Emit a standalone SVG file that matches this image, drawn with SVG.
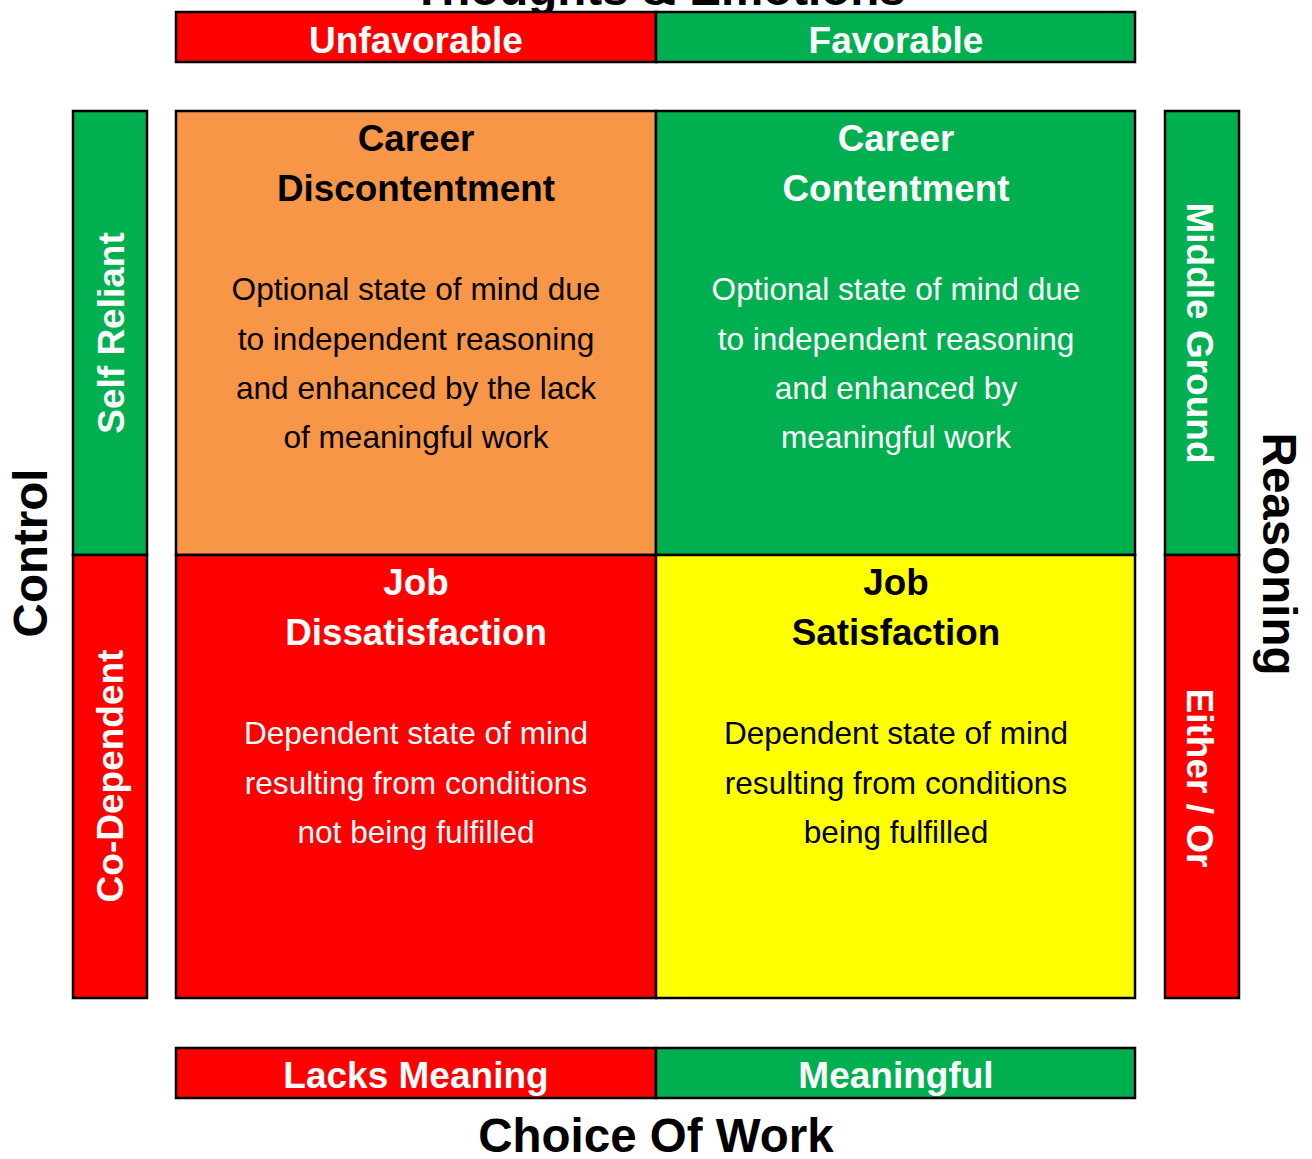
<svg xmlns="http://www.w3.org/2000/svg" width="1312" height="1159" viewBox="0 0 1312 1159">
<style>
.cell{stroke:#000;stroke-width:2.5}
.red{fill:#FF0000}.green{fill:#00B050}.orange{fill:#F79646}.yellow{fill:#FFFF00}
text{font-family:"Liberation Sans",Arial,sans-serif;text-anchor:middle}
.bar{font-size:37px;font-weight:bold;fill:#fff}
.axis{font-size:47.5px;font-weight:bold;fill:#000}
.title{font-size:36.8px;font-weight:bold}
.body{font-size:31.6px}
.w{fill:#fff}.k{fill:#000}
</style>
<rect width="1312" height="1159" fill="#fff"/>
<g id="axis-top">
<text class="axis" x="659" y="5">Thoughts &amp; Emotions</text>
</g>
<g id="top-bar">
<rect class="cell red" x="176" y="12" width="480" height="50"/>
<rect class="cell green" x="656" y="12" width="479" height="50"/>
<text class="bar" x="416" y="53">Unfavorable</text>
<text class="bar" x="896" y="53">Favorable</text>
</g>
<g id="left-bar">
<rect class="cell green" x="73" y="111" width="74" height="444"/>
<rect class="cell red" x="73" y="555" width="74" height="443"/>
<text class="bar" transform="translate(124,333) rotate(-90)">Self Reliant</text>
<text class="bar" transform="translate(123,776) rotate(-90)">Co-Dependent</text>
</g>
<g id="right-bar">
<rect class="cell green" x="1165" y="111" width="74" height="444"/>
<rect class="cell red" x="1165" y="555" width="74" height="443"/>
<text class="bar" transform="translate(1187,333) rotate(90)">Middle Ground</text>
<text class="bar" transform="translate(1187,778) rotate(90)">Either / Or</text>
</g>
<g id="axis-left">
<text class="axis" transform="translate(47,553) rotate(-90)">Control</text>
</g>
<g id="axis-right">
<text class="axis" transform="translate(1263,554) rotate(90)">Reasoning</text>
</g>
<g id="career-discontentment">
<rect class="cell orange" x="176" y="111" width="480" height="444"/>
<text class="title k" x="416" y="151">Career</text>
<text class="title k" x="416" y="201">Discontentment</text>
<text class="body k" x="416" y="300">Optional state of mind due</text>
<text class="body k" x="416" y="350">to independent reasoning</text>
<text class="body k" x="416" y="399">and enhanced by the lack</text>
<text class="body k" x="416" y="448">of meaningful work</text>
</g>
<g id="career-contentment">
<rect class="cell green" x="656" y="111" width="479" height="444"/>
<text class="title w" x="896" y="151">Career</text>
<text class="title w" x="896" y="201">Contentment</text>
<text class="body w" x="896" y="300">Optional state of mind due</text>
<text class="body w" x="896" y="350">to independent reasoning</text>
<text class="body w" x="896" y="399">and enhanced by</text>
<text class="body w" x="896" y="448">meaningful work</text>
</g>
<g id="job-dissatisfaction">
<rect class="cell red" x="176" y="555" width="480" height="443"/>
<text class="title w" x="416" y="595">Job</text>
<text class="title w" x="416" y="645">Dissatisfaction</text>
<text class="body w" x="416" y="744">Dependent state of mind</text>
<text class="body w" x="416" y="794">resulting from conditions</text>
<text class="body w" x="416" y="843">not being fulfilled</text>
</g>
<g id="job-satisfaction">
<rect class="cell yellow" x="656" y="555" width="479" height="443"/>
<text class="title k" x="896" y="595">Job</text>
<text class="title k" x="896" y="645">Satisfaction</text>
<text class="body k" x="896" y="744">Dependent state of mind</text>
<text class="body k" x="896" y="794">resulting from conditions</text>
<text class="body k" x="896" y="843">being fulfilled</text>
</g>
<g id="bottom-bar">
<rect class="cell red" x="176" y="1048" width="480" height="50"/>
<rect class="cell green" x="656" y="1048" width="479" height="50"/>
<text class="bar" x="416" y="1088">Lacks Meaning</text>
<text class="bar" x="896" y="1088">Meaningful</text>
</g>
<g id="axis-bottom">
<text class="axis" x="656" y="1152">Choice Of Work</text>
</g>
<g id="connectors"/>
</svg>
